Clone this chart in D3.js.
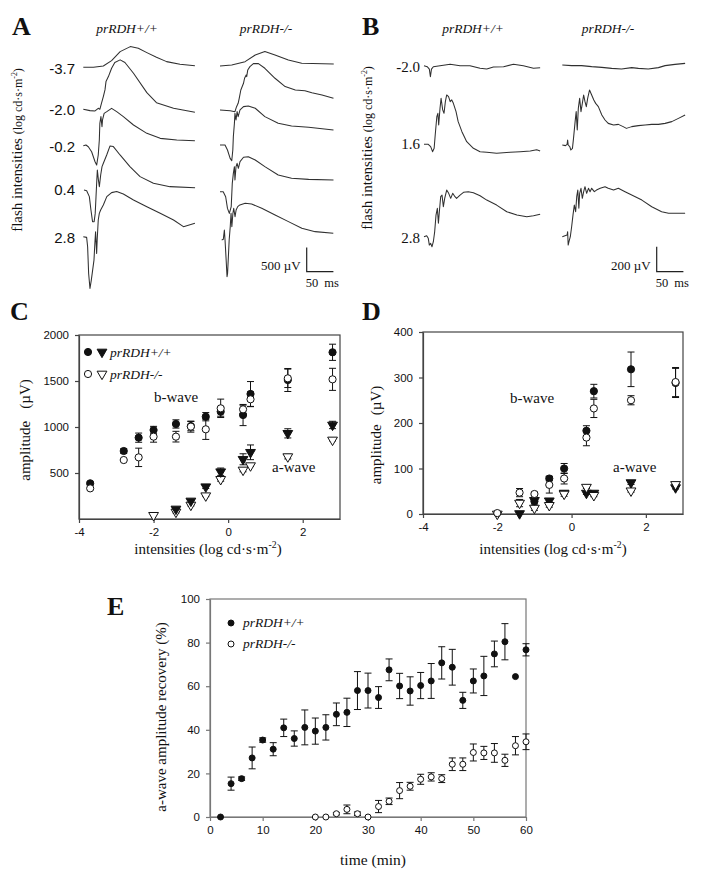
<!DOCTYPE html>
<html><head><meta charset="utf-8">
<script src="https://cdn.jsdelivr.net/npm/d3@7"></script>
<style>body{margin:0;background:#fff} svg{display:block}</style>
</head><body>
<svg id="fig" width="703" height="881"></svg>
<script>
// ---------------- DATA ----------------
// Panel A ERG traces: [time ms, amplitude µV] relative to flash onset / baseline
const intensA = ["-3.7", "-2.0", "-0.2", "0.4", "2.8"];
const aWT1 = [[0,0],[19,0],[37.5,27],[53,137],[69,323],[88,426],[103,392],[119,302],[137,206],[156,117],[181,62],[209,34]];
const aWT2 = [[0,0],[12.5,-27],[22,-34],[28,21],[31,0],[34,124],[37.5,261],[40.6,399],[42.5,570],[47,673],[53,845],[59,962],[69,1017],[78,962],[94,742],[119,343],[137,137],[169,21],[209,-62]];
const aWT3 = [[0,0],[5,14],[9.4,-21],[15.6,-124],[22,-330],[25,-398],[28,-192],[30,117],[31,460],[33,598],[35,392],[36,529],[39,666],[44,701],[53,769],[62.5,701],[75,598],[94,426],[119,254],[144,151],[175,117],[209,103]];
const aWT4 = [[0,0],[5,-14],[10,-137],[13,-412],[16,-652],[19,-652],[21,-481],[22.5,-137],[24,206],[25,412],[27,206],[28.75,69],[31.25,309],[33.75,481],[36.25,550],[42.5,721],[48.75,907],[55,893],[67.5,721],[86,481],[105,275],[130,137],[161,69],[208,48]];
const aWT5 = [[0,0],[6.25,-14],[8.1,-206],[10,-756],[12.5,-1065],[15,-893],[17.5,-687],[20,-481],[22,-69],[23,103],[25,-344],[26,-69],[28,344],[30,481],[32.5,550],[37.5,653],[44,824],[53,907],[62.5,928],[75,879],[94,756],[119,618],[144,481],[169,344],[187.5,206],[209,275]];
const aKO1 = [[0,0],[22,21],[47,89],[66,227],[84,296],[103,227],[128,124],[153,55],[213,41]];
const aKO2 = [[0,0],[19,-14],[28,-34],[31,69],[34,137],[36,240],[39,412],[44,550],[46,653],[49,721],[50,687],[52,824],[56,893],[62.5,954],[72,954],[84,859],[103,653],[122,481],[141,412],[159,398],[172,357],[191,309],[212.5,240]];
const aKO3 = [[0,0],[9.4,0],[14,-103],[19,-275],[22,-323],[24,-103],[25,172],[27,446],[28,653],[30,515],[32,687],[34,584],[37.5,721],[44,790],[53,804],[66,756],[84,584],[109,446],[134,392],[166,364],[212.5,309]];
const aKO4 = [[0,0],[6,0],[10.6,-103],[14,-344],[17.5,-446],[21,-309],[23,172],[25,378],[27,515],[28,240],[30,515],[32,584],[34.4,481],[37.5,618],[44,708],[53,721],[66,653],[84,515],[109,344],[134,275],[166,254],[212.5,240]];
const aKO5 = [[0,0],[3,14],[5,206],[6.25,0],[8,-344],[10,-756],[11,-687],[12.5,-344],[14,0],[16,275],[17.5,550],[19,275],[21,550],[22.5,653],[25,481],[27,618],[30,687],[34,721],[44,756],[56,742],[75,653],[100,515],[125,378],[150,240],[175,172],[209,137]];

// Panel B ERG traces
const intensB = ["-2.0", "1.6", "2.8"];
const bWT1 = [[0,0],[6,-8],[10,-27],[12,-88],[14,-27],[17.5,-8],[30,0],[49,11],[67.5,0],[86,0],[105,-21],[117.5,-27],[130,-11],[149,-8],[167.5,11],[186,0],[205,-21],[217.5,-16]];
const bWT2 = [[0,0],[8,0],[12.5,-19],[16,-59],[19,-32],[21,75],[24,221],[26,248],[27.5,155],[30,288],[32,368],[35,275],[37.5,248],[40,341],[42.5,395],[46,381],[49,341],[52,355],[55,328],[60,261],[64,181],[71,101],[80,21],[92.5,-32],[105,-59],[117.5,-64],[136,-72],[161,-64],[180,-59],[199,-53],[211,-43],[217.5,-53]];
const bWT3 = [[0,0],[5,8],[8,-13],[10,-67],[12.5,-53],[15,-80],[17.5,-40],[20,40],[22.5,173],[25,227],[27,107],[29,213],[31.25,320],[33.75,333],[36.25,240],[38.75,307],[42.5,373],[46.25,347],[50,307],[53.75,347],[58,320],[61,307],[67.5,333],[74,355],[83,360],[92.5,352],[105,328],[117.5,293],[136,253],[155,200],[174,173],[192.5,160],[205,168],[217.5,179]];
const bKO1 = [[0,0],[17.5,-5],[36,-5],[55,-13],[74,-19],[92.5,-27],[111,-32],[130,-21],[142.5,-27],[161,-32],[180,-21],[192.5,-5],[211,5],[230,13]];
const bKO2 = [[0,0],[6,-5],[9,5],[10,40],[11,0],[14,-13],[16,-40],[19,-27],[21,53],[24,187],[26,267],[28,120],[30,293],[32.5,373],[35,267],[37.5,333],[40,400],[42.5,347],[45,307],[47.5,373],[51,440],[55,400],[59,360],[62.5,333],[67.5,307],[74,240],[80,200],[86,173],[96,160],[105,165],[114,147],[120,133],[130,147],[142.5,155],[155,160],[167.5,165],[180,165],[192.5,173],[205,187],[217.5,213],[230,240]];
const bKO3 = [[0,0],[5,8],[9,13],[10,40],[11,-67],[12.5,-40],[15,0],[17.5,80],[20,173],[22.5,253],[25,200],[27,320],[29,373],[31,227],[32.5,347],[35,387],[37.5,307],[40,360],[42.5,400],[45.6,347],[49,387],[52,360],[55,387],[60,360],[64,373],[71,387],[80,400],[86,387],[96,373],[105,387],[117.5,360],[130,333],[149,293],[167.5,240],[186,200],[199,187],[211,187],[230,187]];

// Panel C (scotopic amplitudes, µV)
const cX_bWT = [-3.7,-2.8,-2.4,-2.0,-1.4,-1.0,-0.6,-0.2,0.4,0.6,1.6,2.8];
const cY_bWT = [388,739,884,967,1033,1010,1112,1167,1130,1359,1511,1812];
const cE_bWT = [15,25,50,40,45,50,45,50,115,135,125,88];
const cX_bKO = [-3.7,-2.8,-2.4,-2.0,-1.4,-1.0,-0.6,-0.2,0.4,0.6,1.6,2.8];
const cY_bKO = [333,641,670,895,895,1004,975,1203,1192,1301,1529,1518];
const cE_bKO = [0,0,100,60,58,60,110,100,45,80,100,120];
const cX_aWT = [-1.4,-1.0,-0.6,-0.2,0.4,0.6,1.6,2.8];
const cY_aWT = [109,196,351,514,649,725,931,1022];
const cE_aWT = [10,15,20,40,60,80,50,40];
const cX_aKO = [-2.0,-1.4,-1.0,-0.6,-0.2,0.4,0.6,1.6,2.8];
const cY_aKO = [40,76,152,253,431,533,580,678,859];
const cE_aKO = [0,10,10,10,20,20,10,25,10];

// Panel D (photopic amplitudes, µV)
const dX_bWT = [-1.0,-0.6,-0.2,0.4,0.6,1.6,2.8];
const dY_bWT = [28,78,100,183,270,318,288];
const dE_bWT = [8,5,11,11,15,38,32];
const dX_bKO = [-2.0,-1.4,-1.0,-0.6,-0.2,0.4,0.6,1.6,2.8];
const dY_bKO = [2,47,44,64,78,168,232,250,290];
const dE_bKO = [0,9,4,18,12,18,20,10,32];
const dX_aWT = [-1.4,-1.0,-0.6,-0.2,0.4,0.6,1.6,2.8];
const dY_aWT = [1,30,29,46,46,46,69,58];
const dE_aWT = [0,5,3,3,3,3,4,3];
const dX_aKO = [-2.0,-1.4,-1.0,-0.6,-0.2,0.4,0.6,1.6,2.8];
const dY_aKO = [0,24,13,19,44,59,41,51,65];
const dE_aKO = [0,8,5,4,5,3,3,3,3];

// Panel E (a-wave recovery %)
const eT_WT = [2,4,6,8,10,12,14,16,18,20,22,24,26,28,30,32,34,36,38,40,42,44,46,48,50,52,54,56,58,60];
const eY_WT = [0,15.3,17.6,27.1,35.3,31.1,40.9,36,41.1,39.4,41.1,47.1,48,58,58,54.8,67.5,60.1,57.8,60.3,62.4,70.7,68.7,53.5,62.4,64.7,74.8,80.4,64.4,76.7];
const eE_WT = [0,3,0.8,5,1,3,4,3.5,8,6,5.8,5.2,6.5,8.7,8,5,5,5.8,6.5,6,8,7.4,8.2,3.7,5.5,9,5.9,8.3,0,2.8];
const eT_KO = [20,22,24,26,28,30,32,34,36,38,40,42,44,46,48,50,52,54,56,58,60];
const eY_KO = [0,0,1.5,3.5,1.5,0,4.8,7.2,12.1,14.1,17.3,18.4,17.6,24.2,24.2,29.6,29.4,29.4,26,32.7,34.5];
const eE_KO = [0,0,0.5,2,0.8,0,2.8,1.5,3.7,1.8,2.3,1.9,1.8,2.9,2.9,3.9,3,4.3,2.8,4.2,3.6];

// ---------------- DRAWING ----------------
const svg = d3.select("#fig");
const INK = "#111";
const SERIF = "'Liberation Serif','Times New Roman',serif";
const SANS = "'Liberation Sans',Arial,sans-serif";

function txt(x, y, s, opts = {}) {
  const t = svg.append("text").attr("x", x).attr("y", y).text(s)
    .attr("font-family", opts.family || SERIF).attr("font-size", opts.size || 14)
    .attr("fill", INK).attr("text-anchor", opts.anchor || "start");
  if (opts.italic) t.attr("font-style", "italic");
  if (opts.bold) t.attr("font-weight", "bold");
  return t;
}
function panelLetter(x, y, s) { txt(x, y, s, {size: 26, bold: true}); }

function unitTitle(g, preSize, postSize, pre) {
  g.append("tspan").attr("font-size", preSize).text(pre);
  g.append("tspan").attr("font-size", postSize).text("(log cd·s·m");
  g.append("tspan").attr("font-size", postSize * 0.65).attr("dy", -postSize * 0.4).text("-2");
  g.append("tspan").attr("font-size", postSize).attr("dy", postSize * 0.4).text(")");
}

// ---------- ERG trace panels ----------
function tracePanel(cfg) {
  const xs = d3.scaleLinear().domain([0, 50]).range([0, 26.7]);
  const ys = d3.scaleLinear().domain([0, cfg.barUV]).range([0, -cfg.barPx]);
  const line = d3.line().x(d => xs(d[0])).y(d => ys(d[1]));
  cfg.columns.forEach(col => {
    col.traces.forEach((tr, i) => {
      svg.append("path").attr("d", line(tr))
        .attr("transform", `translate(${col.x0[i]},${col.y0[i]})`)
        .attr("fill", "none").attr("stroke", "#303030").attr("stroke-width", 1.05)
        .attr("stroke-linejoin", "round");
    });
    txt(col.hx, 33, col.head, {italic: true, size: 13.5, anchor: "middle"});
  });
  cfg.labels.forEach((l, i) => txt(cfg.labelX, cfg.labelY[i], l, {family: cfg.labelFamily, size: 15, anchor: "end"}));
  const sx = cfg.barX, sy = 271.7;
  svg.append("path")
    .attr("d", `M${sx},${sy + ys(cfg.barUV)}V${sy}H${sx + xs(50)}`)
    .attr("fill", "none").attr("stroke", "#222").attr("stroke-width", 1.2);
  txt(sx - 6, 270, cfg.barUV + " µV", {size: 13, anchor: "end"});
  txt(sx - 1, 287, "50 ms", {size: 12.5}).attr("word-spacing", 3);
  const t = svg.append("text").attr("transform", `translate(${cfg.titleX},${cfg.titleY}) rotate(-90)`)
    .attr("text-anchor", "middle").attr("font-family", SERIF).attr("fill", INK);
  unitTitle(t, 15, 12, "flash intensities ");
}

tracePanel({
  barUV: 500, barPx: 24.3, barX: 306.7,
  labels: intensA, labelX: 75, labelY: [74, 115, 152, 195, 243], labelFamily: SANS,
  titleX: 22, titleY: 150,
  columns: [
    {head: "prRDH+/+", hx: 127, traces: [aWT1, aWT2, aWT3, aWT4, aWT5],
     x0: [83.3, 83.3, 83.3, 84, 83.3], y0: [67.3, 109.3, 145.7, 190, 236.7]},
    {head: "prRDH-/-", hx: 266, traces: [aKO1, aKO2, aKO3, aKO4, aKO5],
     x0: [220, 220, 220, 220, 221.7], y0: [66, 110, 145, 191.7, 240]}
  ]
});
tracePanel({
  barUV: 200, barPx: 25, barX: 656.7,
  labels: intensB, labelX: 420, labelY: [72, 149, 243], labelFamily: SERIF,
  titleX: 372, titleY: 148,
  columns: [
    {head: "prRDH+/+", hx: 473, traces: [bWT1, bWT2, bWT3],
     x0: [424, 424, 424], y0: [65.7, 144.3, 236.7]},
    {head: "prRDH-/-", hx: 608, traces: [bKO1, bKO2, bKO3],
     x0: [562.3, 562.3, 562.3], y0: [65, 145, 236.7]}
  ]
});
panelLetter(12, 35, "A");
panelLetter(362, 35, "B");

// ---------- scatter panels ----------
function marker(g, shape, filled, x, y, r) {
  if (shape === "circle") {
    g.append("circle").attr("cx", x).attr("cy", y).attr("r", r)
      .attr("fill", filled ? INK : "#fff").attr("stroke", INK).attr("stroke-width", 1);
  } else {
    g.append("path").attr("d", d3.symbol(d3.symbolTriangle, r * r * 3.2)())
      .attr("transform", `translate(${x},${y}) rotate(180)`)
      .attr("fill", filled ? INK : "#fff").attr("stroke", INK).attr("stroke-width", 1);
  }
}

function scatterPanel(cfg) {
  const x = d3.scaleLinear().domain(cfg.xDomain).range([cfg.L, cfg.R]);
  const y = d3.scaleLinear().domain(cfg.yDomain).range([cfg.B, cfg.T]);
  const g = svg.append("g");
  g.append("rect").attr("x", cfg.L).attr("y", cfg.T).attr("width", cfg.R - cfg.L).attr("height", cfg.B - cfg.T)
    .attr("fill", "none").attr("stroke", cfg.frame).attr("stroke-width", 1.2);
  const ax = g.append("g").attr("transform", `translate(0,${cfg.B})`)
    .call(d3.axisBottom(x).tickValues(cfg.xTicks).tickSize(4).tickSizeOuter(0).tickPadding(5).tickFormat(d => String(d)));
  const ay = g.append("g").attr("transform", `translate(${cfg.L},0)`)
    .call(d3.axisLeft(y).tickValues(cfg.yTicks).tickSize(4).tickSizeOuter(0).tickPadding(6).tickFormat(d => String(d)));
  [ax, ay].forEach(a => {
    a.selectAll("path,line").attr("stroke", cfg.frame).attr("stroke-width", 1.2);
    a.selectAll("text").attr("font-family", SANS).attr("font-size", 11.5).attr("fill", INK);
  });
  cfg.series.forEach(s => {
    s.x.forEach((xv, i) => {
      const e = s.e[i];
      if (e > 0) {
        const px = x(xv), y1 = y(s.y[i] + e), y2 = y(Math.max(cfg.yDomain[0], s.y[i] - e));
        const cw = cfg.cap;
        g.append("path").attr("d", `M${px},${y1}V${y2}M${px - cw},${y1}H${px + cw}M${px - cw},${y2}H${px + cw}`)
          .attr("stroke", INK).attr("stroke-width", 1).attr("fill", "none");
      }
    });
  });
  cfg.series.forEach(s => {
    s.x.forEach((xv, i) => marker(g, s.shape, s.filled, x(xv), y(s.y[i]), cfg.r));
  });
  return {x, y};
}

scatterPanel({
  L: 79, R: 340, T: 335, B: 519, xDomain: [-4, 3], yDomain: [0, 2000],
  xTicks: [-4, -2, 0, 2], yTicks: [500, 1000, 1500, 2000], frame: "#444", cap: 3.5, r: 3.6,
  series: [
    {x: cX_aKO, y: cY_aKO, e: cE_aKO, shape: "tri", filled: false},
    {x: cX_aWT, y: cY_aWT, e: cE_aWT, shape: "tri", filled: true},
    {x: cX_bWT, y: cY_bWT, e: cE_bWT, shape: "circle", filled: true},
    {x: cX_bKO, y: cY_bKO, e: cE_bKO, shape: "circle", filled: false}
  ]
});
scatterPanel({
  L: 423, R: 683, T: 332, B: 514, xDomain: [-4, 3], yDomain: [0, 400],
  xTicks: [-4, -2, 0, 2], yTicks: [0, 100, 200, 300, 400], frame: "#444", cap: 3.5, r: 3.6,
  series: [
    {x: dX_aWT, y: dY_aWT, e: dE_aWT, shape: "tri", filled: true},
    {x: dX_aKO, y: dY_aKO, e: dE_aKO, shape: "tri", filled: false},
    {x: dX_bWT, y: dY_bWT, e: dE_bWT, shape: "circle", filled: true},
    {x: dX_bKO, y: dY_bKO, e: dE_bKO, shape: "circle", filled: false}
  ]
});
scatterPanel({
  L: 210, R: 526, T: 599, B: 817, xDomain: [0, 60], yDomain: [0, 100],
  xTicks: [0, 10, 20, 30, 40, 50, 60], yTicks: [0, 20, 40, 60, 80, 100], frame: "#777", cap: 3.5, r: 3,
  series: [
    {x: eT_WT, y: eY_WT, e: eE_WT, shape: "circle", filled: true},
    {x: eT_KO, y: eY_KO, e: eE_KO, shape: "circle", filled: false}
  ]
});

panelLetter(10, 320, "C");
panelLetter(362, 320, "D");
panelLetter(107, 615, "E");

function xTitle(cx, by) {
  const t = svg.append("text").attr("x", cx).attr("y", by).attr("text-anchor", "middle")
    .attr("font-family", SERIF).attr("fill", INK);
  unitTitle(t, 15, 15, "intensities ");
}
xTitle(208, 554);
xTitle(553, 554);
function yTitle(x, y, parts, size) {
  const t = svg.append("text").attr("transform", `translate(${x},${y}) rotate(-90)`)
    .attr("text-anchor", "middle").attr("font-family", SERIF).attr("font-size", size).attr("fill", INK);
  parts.forEach(p => t.append("tspan").attr("dx", p.dx || 0).text(p.t));
}
yTitle(30, 430, [{t: "amplitude"}, {t: "(µV)", dx: 12}], 15);
yTitle(381, 435, [{t: "amplitude"}, {t: "(µV)", dx: 9}], 15);
txt(154, 402, "b-wave", {size: 15});
txt(272, 472, "a-wave", {size: 15});
txt(510, 403, "b-wave", {size: 15});
txt(613, 472, "a-wave", {size: 15});

const gl = svg.append("g");
marker(gl, "circle", true, 88, 352, 3.6);
marker(gl, "tri", true, 102, 352, 3.6);
txt(110, 357, "prRDH+/+", {italic: true, size: 13.5});
marker(gl, "circle", false, 88, 374, 3.6);
marker(gl, "tri", false, 102, 374, 3.6);
txt(110, 379, "prRDH-/-", {italic: true, size: 13.5});

marker(gl, "circle", true, 231, 623, 3);
txt(243, 627, "prRDH+/+", {italic: true, size: 13.5});
marker(gl, "circle", false, 231, 644, 3);
txt(243, 648, "prRDH-/-", {italic: true, size: 13.5});
txt(373, 865, "time (min)", {size: 15.5, anchor: "middle"});
yTitle(166, 717, [{t: "a-wave amplitude recovery (%)"}], 15);
</script>
</body></html>
